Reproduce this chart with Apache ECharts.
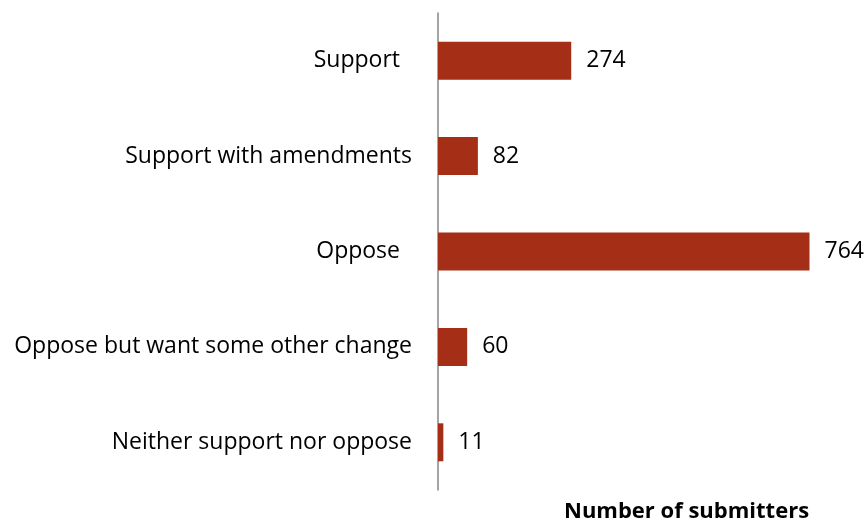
<!DOCTYPE html>
<html>
<head>
<meta charset="utf-8">
<script src="https://cdn.jsdelivr.net/npm/echarts@6/dist/echarts.min.js"></script>
<style>
  html, body { margin: 0; padding: 0; background: #fff; }
  #chart { width: 868px; height: 522px; }
</style>
</head>
<body>
<div id="chart"></div>
<script>
// Submission positions and how many submitters chose each
const categories = [
  'Support',
  'Support with amendments',
  'Oppose',
  'Oppose but want some other change',
  'Neither support nor oppose'
];
const submitters = [274, 82, 764, 60, 11];
const axisTitle = 'Number of submitters';

const FONT = 'Open Sans';
const BAR_COLOR = '#a52e16';
// Short labels sit a little further from the axis
const extraGap = { 'Support': 12, 'Oppose': 12 };

const chart = echarts.init(document.getElementById('chart'));
chart.setOption({
  animation: false,
  grid: { left: 438, right: 41, top: 13, bottom: 32, containLabel: false },
  xAxis: {
    type: 'value',
    min: 0,
    max: 800,
    show: false
  },
  yAxis: {
    type: 'category',
    inverse: true,
    data: categories,
    axisLine: { show: true, lineStyle: { color: '#868686', width: 1.5 } },
    axisTick: { show: false },
    axisLabel: {
      margin: 26,
      color: '#000',
      fontFamily: FONT,
      fontSize: 23,
      formatter: function (name) {
        return extraGap[name] ? '{p|' + name + '}' : name;
      },
      rich: {
        p: { fontFamily: FONT, fontSize: 23, color: '#000', padding: [0, 12, 0, 0] }
      }
    }
  },
  title: {
    text: axisTitle,
    left: 559,
    top: 496,
    textStyle: { fontFamily: FONT, fontSize: 22, fontWeight: 'bold', color: '#000' }
  },
  series: [{
    type: 'bar',
    data: submitters,
    barWidth: 38,
    itemStyle: { color: BAR_COLOR },
    label: {
      show: true,
      position: 'right',
      distance: 15,
      color: '#000',
      fontFamily: FONT,
      fontSize: 23
    }
  }]
});
</script>
</body>
</html>
